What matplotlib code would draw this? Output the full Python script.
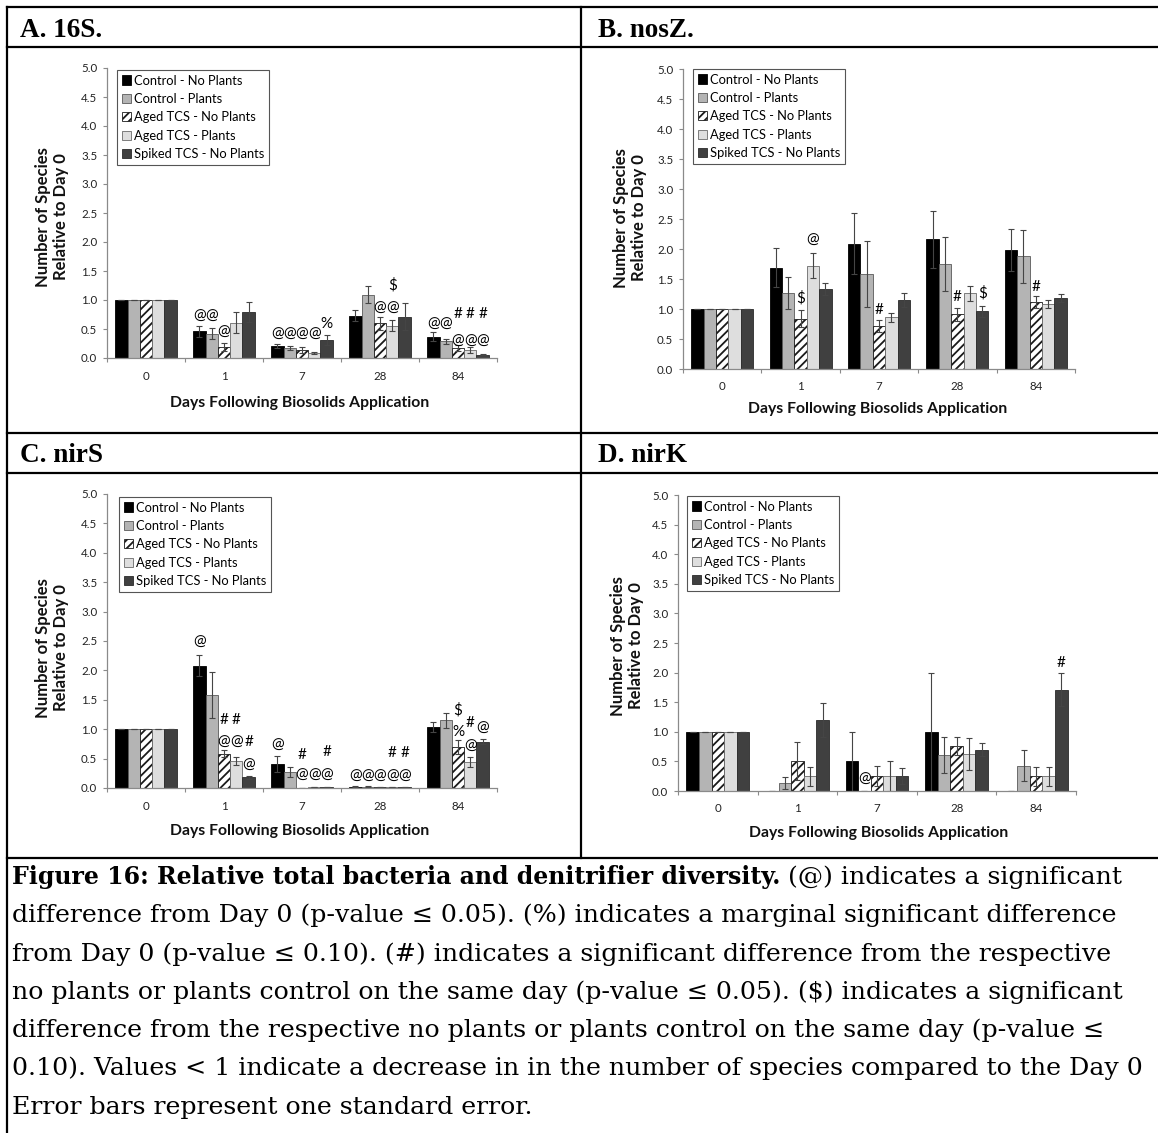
import numpy as np
import matplotlib.pyplot as plt
from matplotlib.lines import Line2D

W, H = 1158, 1133

DAYS = ["0", "1", "7", "28", "84"]
SERIES = ["Control - No Plants", "Control - Plants", "Aged TCS - No Plants",
          "Aged TCS - Plants", "Spiked TCS - No Plants"]

# 16S - one list per series, values by day
s16_vals = [[1.0, 0.46, 0.21, 0.73, 0.37],
            [1.0, 0.42, 0.17, 1.09, 0.29],
            [1.0, 0.19, 0.14, 0.60, 0.17],
            [1.0, 0.61, 0.09, 0.56, 0.14],
            [1.0, 0.79, 0.31, 0.71, 0.06]]
s16_errs = [[0, 0.10, 0.04, 0.10, 0.08],
            [0, 0.10, 0.03, 0.15, 0.04],
            [0, 0.07, 0.05, 0.11, 0.05],
            [0, 0.18, 0.02, 0.10, 0.05],
            [0, 0.17, 0.09, 0.23, 0.01]]
s16_notes = [(1, 0, "@", 0.73), (1, 1, "@", 0.73), (1, 2, "@", 0.45),
             (2, 0, "@", 0.42), (2, 1, "@", 0.42), (2, 2, "@", 0.42), (2, 3, "@", 0.42),
             (2, 4, "%", 0.59),
             (3, 2, "@", 0.87), (3, 3, "@", 0.87), (3, 3, "$", 1.25),
             (4, 0, "@", 0.59), (4, 1, "@", 0.59),
             (4, 2, "@", 0.30), (4, 3, "@", 0.30), (4, 4, "@", 0.30),
             (4, 2, "#", 0.76), (4, 3, "#", 0.76), (4, 4, "#", 0.76)]

# nosZ
nosz_vals = [[1.0, 1.69, 2.09, 2.16, 1.98],
             [1.0, 1.27, 1.58, 1.75, 1.88],
             [1.0, 0.84, 0.72, 0.91, 1.11],
             [1.0, 1.72, 0.86, 1.26, 1.08],
             [1.0, 1.33, 1.15, 0.96, 1.18]]
nosz_errs = [[0, 0.33, 0.51, 0.47, 0.35],
             [0, 0.27, 0.55, 0.45, 0.44],
             [0, 0.14, 0.10, 0.11, 0.10],
             [0, 0.21, 0.08, 0.13, 0.07],
             [0, 0.10, 0.11, 0.09, 0.07]]
nosz_notes = [(1, 2, "$", 1.18), (1, 3, "@", 2.15), (2, 2, "#", 0.99),
              (3, 2, "#", 1.20), (3, 4, "$", 1.26), (4, 2, "#", 1.36)]

# nirS
nirs_vals = [[1.0, 2.08, 0.41, 0.02, 1.04],
             [1.0, 1.58, 0.27, 0.02, 1.15],
             [1.0, 0.58, 0.00, 0.01, 0.69],
             [1.0, 0.46, 0.01, 0.01, 0.44],
             [1.0, 0.18, 0.01, 0.01, 0.79]]
nirs_errs = [[0, 0.18, 0.14, 0.01, 0.09],
             [0, 0.39, 0.09, 0.01, 0.13],
             [0, 0.06, 0.00, 0.00, 0.12],
             [0, 0.07, 0.00, 0.00, 0.08],
             [0, 0.03, 0.00, 0.00, 0.04]]
nirs_notes = [(1, 0, "@", 2.49), (1, 2, "#", 1.16), (1, 3, "#", 1.16),
              (1, 2, "@", 0.78), (1, 3, "@", 0.78), (1, 4, "#", 0.78), (1, 4, "@", 0.40),
              (2, 0, "@", 0.74), (2, 2, "#", 0.56), (2, 4, "#", 0.61),
              (2, 2, "@", 0.23), (2, 3, "@", 0.23), (2, 4, "@", 0.23),
              (3, 0, "@", 0.21), (3, 1, "@", 0.21), (3, 2, "@", 0.21), (3, 3, "@", 0.21),
              (3, 4, "@", 0.21), (3, 3, "#", 0.59), (3, 4, "#", 0.59),
              (4, 2, "$", 1.33), (4, 2, "%", 0.96), (4, 3, "#", 1.10),
              (4, 4, "@", 1.02), (4, 3, "@", 0.71)]

# nirK
nirk_vals = [[1.0, 0.00, 0.50, 1.00, 0.00],
             [1.0, 0.14, 0.00, 0.61, 0.43],
             [1.0, 0.51, 0.25, 0.76, 0.25],
             [1.0, 0.25, 0.25, 0.62, 0.25],
             [1.0, 1.20, 0.25, 0.70, 1.71]]
nirk_errs = [[0, 0.00, 0.50, 1.00, 0.00],
             [0, 0.10, 0.00, 0.30, 0.26],
             [0, 0.32, 0.17, 0.16, 0.16],
             [0, 0.16, 0.25, 0.27, 0.16],
             [0, 0.28, 0.14, 0.11, 0.28]]
nirk_notes = [(2, 1, "@", 0.21), (4, 4, "#", 2.16)]

CAPTION_BOLD = "Figure 16: Relative total bacteria and denitrifier diversity."
CAPTION = [" (@) indicates a significant",
           "difference from Day 0 (p-value \u2264 0.05). (%) indicates a marginal significant difference",
           "from Day 0 (p-value \u2264 0.10). (#) indicates a significant difference from the respective",
           "no plants or plants control on the same day (p-value \u2264 0.05). ($) indicates a significant",
           "difference from the respective no plants or plants control on the same day (p-value \u2264",
           "0.10). Values < 1 indicate a decrease in in the number of species compared to the Day 0",
           "Error bars represent one standard error."]

FILL = ["#000000", "#b4b4b4", "#ffffff", "#dedede", "#404040"]
EDGE = ["#000000", "#5a5a5a", "#1a1a1a", "#6a6a6a", "#2a2a2a"]
HATCH = [None, None, "////", None, None]
BW = 0.158

plt.rcParams["font.family"] = "Lato"
plt.rcParams["hatch.linewidth"] = 1.3

fig = plt.figure(figsize=(W / 100, H / 100), dpi=100)


def fx(x):
    return x / W


def fy(y):
    return 1 - y / H


def hline(y, x0, x1):
    fig.add_artist(Line2D([fx(x0), fx(x1)], [fy(y), fy(y)], transform=fig.transFigure,
                          color="black", lw=1.6))


def vline(x, y0, y1):
    fig.add_artist(Line2D([fx(x), fx(x)], [fy(y0), fy(y1)], transform=fig.transFigure,
                          color="black", lw=1.6))


def panel(title, tpos, box, vals, errs, notes, leg, xlab, ylab):
    l, t, r, b = box
    ax = fig.add_axes([fx(l), fy(b), fx(r) - fx(l), fy(t) - fy(b)])
    x = np.arange(len(DAYS)) + 0.5
    for j in range(len(SERIES)):
        ax.bar(x + (j - 2) * BW, vals[j], BW, yerr=errs[j], color=FILL[j],
               edgecolor=EDGE[j], hatch=HATCH[j], lw=0.6, label=SERIES[j],
               error_kw=dict(ecolor="#454545", elinewidth=0.8, capsize=2.4, capthick=0.8))
    for d, s, sym, y in notes:
        ax.text(x[d] + (s - 2) * BW, y, sym, ha="center", va="center",
                fontsize=11, parse_math=False)
    ax.set_xlim(0, 5)
    ax.set_ylim(0, 5)
    for side in ["top", "right"]:
        ax.spines[side].set_visible(False)
    for side in ["left", "bottom"]:
        ax.spines[side].set_color("#8a8a8a")
        ax.spines[side].set_linewidth(0.9)
    yt = np.arange(0, 5.01, 0.5)
    ax.set_yticks(yt)
    ax.set_yticklabels([f"{v:.1f}" for v in yt])
    ax.tick_params(axis="y", length=3, color="#8a8a8a", labelsize=8.3,
                   labelcolor="#222222", pad=4)
    ax.set_xticks(range(6))
    ax.set_xticklabels([])
    ax.tick_params(axis="x", which="major", length=3, color="#8a8a8a")
    ax.set_xticks(x, minor=True)
    ax.set_xticklabels(DAYS, minor=True)
    ax.tick_params(axis="x", which="minor", length=0, labelsize=8.3,
                   labelcolor="#222222", pad=9)
    lg = ax.legend(loc="upper left", bbox_to_anchor=(fx(leg[0]), fy(leg[1])),
                   bbox_transform=fig.transFigure, borderaxespad=0, fancybox=False,
                   edgecolor="#555555", framealpha=1, fontsize=9.3, borderpad=0.35,
                   handlelength=0.7, handleheight=0.7, handletextpad=0.3,
                   labelspacing=0.5)
    lg.get_frame().set_linewidth(0.8)
    fig.text(fx(xlab[0]), fy(xlab[1]), "Days Following Biosolids Application",
             ha="center", va="center", fontsize=11.3, weight="bold", color="#111111")
    fig.text(fx(ylab[0]), fy(ylab[1]), "Number of Species\nRelative to Day 0",
             ha="center", va="center", rotation=90, fontsize=12, weight="bold",
             color="#111111", multialignment="center", linespacing=1.15)
    fig.text(fx(tpos[0]), fy(tpos[1]), title, ha="left", va="baseline",
             family="Liberation Serif", weight="bold", fontsize=19.5)
    return ax


panel("A. 16S.", (20, 37), (107, 68, 497, 358), s16_vals, s16_errs, s16_notes,
      (117, 70), (300, 403), (52, 217))
panel("B. nosZ.", (598, 37), (683, 69, 1075, 369), nosz_vals, nosz_errs, nosz_notes,
      (693, 69), (878, 409), (630, 218))
panel("C. nirS", (20, 462), (107, 494, 497, 788), nirs_vals, nirs_errs, nirs_notes,
      (119, 497), (300, 831), (52, 648))
panel("D. nirK", (598, 462), (678, 495, 1076, 791), nirk_vals, nirk_errs, nirk_notes,
      (687, 496), (879, 833), (627, 646))

# table rules
hline(7, 7, W)
hline(47, 7, W)
hline(433, 7, W)
hline(473, 7, W)
hline(858, 7, W)
vline(7, 7, H)
vline(581, 7, 858)

# caption
cap_font = dict(family="DejaVu Serif", fontsize=18.2, va="baseline", ha="left",
                parse_math=False)
bold = fig.text(fx(12), fy(884), CAPTION_BOLD, weight="bold",
                **{**cap_font, "fontsize": 17.0})
fig.canvas.draw()
bb = bold.get_window_extent()
fig.text(bb.x1 / fig.bbox.width, fy(884), CAPTION[0], **cap_font)
for k, line in enumerate(CAPTION[1:], start=1):
    fig.text(fx(12), fy(884 + 38.3 * k), line, **cap_font)

fig.savefig("out.png", dpi=100)
